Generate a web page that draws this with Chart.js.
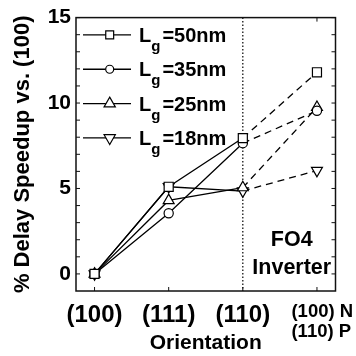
<!DOCTYPE html>
<html>
<head>
<meta charset="utf-8">
<script src="https://cdn.jsdelivr.net/npm/chart.js@4.4.1/dist/chart.umd.min.js"></script>
<style>
  html, body { margin: 0; padding: 0; background: #fff; }
  #wrap { width: 356px; height: 356px; }
</style>
</head>
<body>
<div id="wrap"><canvas id="speedupChart"></canvas></div>
<script>
// values
const orientations = ["(100)", "(111)", "(110)", ["(100) N", "(110) P"]];
const gateLengths = ["50nm", "35nm", "25nm", "18nm"];
const lg50 = [0, 5.1, 7.95, 11.8];
const lg35 = [0, 3.55, 7.65, 9.55];
const lg25 = [0, 4.3, 5.05, 9.75];
const lg18 = [0, 5.1, 4.85, 6.05];
const yTicks = [0, 5, 10, 15];

const FONT = "'Liberation Sans', Arial, Helvetica, sans-serif";
Chart.defaults.font.family = FONT;
Chart.defaults.color = "#000";

// marker look for each gate length (chart / legend sizes)
const markerStyles = [
  { pointStyle: "rect", radius: 6.4, legendRadius: 5.6, rotation: 0 },
  { pointStyle: "circle", radius: 4.6, legendRadius: 4, rotation: 0 },
  { pointStyle: "triangle", radius: 6.3, legendRadius: 6.5, rotation: 0 },
  { pointStyle: "triangle", radius: 6.3, legendRadius: 6.5, rotation: 180 },
];

const series = [lg50, lg35, lg25, lg18];

const datasets = series.map((vals, i) => ({
  label: "Lg=" + gateLengths[i],
  data: vals.map((v, j) => ({ x: j, y: v })),
  borderColor: "#000",
  borderWidth: 1.3,
  pointBackgroundColor: "#fff",
  pointBorderColor: "#000",
  pointBorderWidth: 1.2,
  pointStyle: markerStyles[i].pointStyle,
  pointRadius: markerStyles[i].radius,
  pointRotation: markerStyles[i].rotation,
  tension: 0,
  // last step (to the mixed N/P case) is dashed
  segment: { borderDash: (ctx) => (ctx.p0DataIndex >= 2 ? [7, 5] : undefined) },
}));

// frame, inward ticks and the dotted divider
const framePlugin = {
  id: "frame",
  beforeDatasetsDraw(chart) {
    const { ctx, chartArea: a, scales } = chart;
    const x = scales.x, y = scales.y;
    ctx.save();

    ctx.strokeStyle = "#000";
    ctx.lineWidth = 1.2;
    ctx.setLineDash([1.5, 2]);
    const divX = x.getPixelForValue(2);
    ctx.beginPath();
    ctx.moveTo(divX, a.top);
    ctx.lineTo(divX, a.bottom);
    ctx.stroke();
    ctx.setLineDash([]);

    ctx.strokeStyle = "#111";
    ctx.lineWidth = 1.5;
    ctx.strokeRect(a.left, a.top, a.right - a.left, a.bottom - a.top);

    ctx.lineWidth = 1;
    for (let v = 0; v <= 15; v++) {
      const py = y.getPixelForValue(v);
      ctx.beginPath();
      ctx.moveTo(a.left, py);
      ctx.lineTo(a.left + 4, py);
      ctx.moveTo(a.right, py);
      ctx.lineTo(a.right - 4, py);
      ctx.stroke();
    }
    orientations.forEach((_, i) => {
      const px = x.getPixelForValue(i);
      ctx.beginPath();
      ctx.moveTo(px, a.bottom);
      ctx.lineTo(px, a.bottom - 4);
      ctx.stroke();
    });
    const topTick = x.getPixelForValue(3);
    ctx.beginPath();
    ctx.moveTo(topTick, a.top);
    ctx.lineTo(topTick, a.top + 4);
    ctx.stroke();

    ctx.restore();
  },
  afterDraw(chart) {
    const { ctx, chartArea: a, scales } = chart;
    const x = scales.x, y = scales.y;
    ctx.save();
    ctx.fillStyle = "#000";

    // orientation labels
    ctx.textBaseline = "middle";
    orientations.forEach((lab, i) => {
      const px = x.getPixelForValue(i);
      if (Array.isArray(lab)) {
        ctx.font = "bold 18.5px " + FONT;
        ctx.textAlign = "left";
        lab.forEach((line, k) => ctx.fillText(line, px - 25.5, a.bottom + 21 + k * 20));
      } else {
        ctx.font = "bold 24px " + FONT;
        ctx.textAlign = "center";
        ctx.fillText(lab, px, a.bottom + 24);
      }
    });

    // FO4 Inverter note
    ctx.textAlign = "center";
    ctx.font = "bold 21.5px " + FONT;
    ctx.fillText("FO4", x.getPixelForValue(2.66), y.getPixelForValue(1.97));
    ctx.fillText("Inverter", x.getPixelForValue(2.66), y.getPixelForValue(0.34));

    // legend with subscript g
    gateLengths.forEach((len, i) => {
      const rowY = a.top + 17.3 + i * 34.35;
      const st = markerStyles[i];
      ctx.strokeStyle = "#000";
      ctx.lineWidth = 1.3;
      ctx.beginPath();
      ctx.moveTo(a.left + 7, rowY);
      ctx.lineTo(a.left + 55, rowY);
      ctx.stroke();
      ctx.fillStyle = "#fff";
      ctx.lineWidth = 1.2;
      Chart.helpers.drawPoint(ctx, {
        pointStyle: st.pointStyle, radius: st.legendRadius, rotation: st.rotation, borderWidth: 1.2,
      }, a.left + 33.7, rowY);

      ctx.fillStyle = "#000";
      ctx.textAlign = "left";
      ctx.textBaseline = "alphabetic";
      let tx = a.left + 63;
      const base = rowY + 7;
      ctx.font = "bold 20px " + FONT;
      ctx.fillText("L", tx, base);
      tx += ctx.measureText("L").width;
      ctx.font = "bold 15px " + FONT;
      ctx.fillText("g", tx, base + 9);
      tx += ctx.measureText("g").width + 2;
      ctx.font = "bold 20px " + FONT;
      ctx.fillText("=" + len, tx, base);
    });

    ctx.restore();
  },
};

new Chart(document.getElementById("speedupChart"), {
  type: "line",
  data: { datasets },
  options: {
    responsive: true,
    maintainAspectRatio: false,
    animation: false,
    events: [],
    layout: { padding: { top: 16, right: 20.5, left: 0, bottom: 0 } },
    plugins: { legend: { display: false }, tooltip: { enabled: false } },
    scales: {
      x: {
        type: "linear",
        min: -0.25,
        max: 3.25,
        afterBuildTicks: (s) => { s.ticks = orientations.map((_, i) => ({ value: i })); },
        afterFit: (s) => { s.height = 65; s.paddingLeft = 0; s.paddingRight = 0; },
        grid: { display: false, drawTicks: false },
        border: { display: false },
        ticks: { display: false },
        title: {
          display: true, text: "Orientation",
          font: { size: 21, weight: "bold" }, padding: 0,
        },
      },
      y: {
        min: -1,
        max: 15,
        afterBuildTicks: (s) => { s.ticks = yTicks.map((v) => ({ value: v })); },
        afterFit: (s) => { s.width = 76; },
        grid: { display: false, drawTicks: false },
        border: { display: false },
        ticks: { font: { size: 21, weight: "bold" }, padding: 5 },
        title: {
          display: true, text: "% Delay Speedup vs. (100)",
          font: { size: 22, weight: "bold" }, padding: { top: 10, bottom: 0 },
        },
      },
    },
  },
  plugins: [framePlugin],
});
</script>
</body>
</html>
